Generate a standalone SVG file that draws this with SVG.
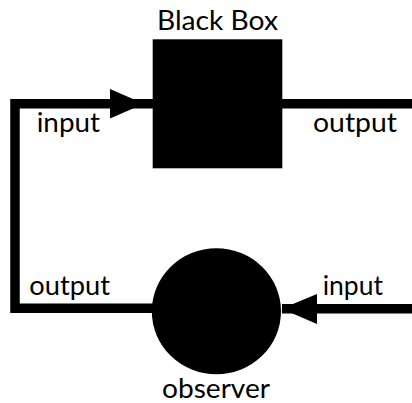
<svg xmlns="http://www.w3.org/2000/svg" width="412" height="403" viewBox="0 0 412 403">
  <style>
    .wire { fill: none; stroke: #000; stroke-width: 9.5; stroke-linejoin: miter; }
    .head { fill: #000; }
    .shape { fill: #000; }
    .label { font-family: Lato, "Open Sans", "Liberation Sans", sans-serif; font-size: 26px; fill: #000; }
  </style>
  <rect width="412" height="403" fill="#fff"/>

  <g id="connectors">
    <!-- observer output loops round to the black box input -->
    <path class="wire" d="M153,308.3 H15 V103.7 H154"/>
    <polygon class="head" points="110,89 110,118.5 144,103.7"/>
    <!-- black box output leaves to the right -->
    <path class="wire" d="M281,103.7 H412"/>
    <!-- observer input enters from the right -->
    <path class="wire" d="M412,308.8 H282"/>
    <polygon class="head" points="317,294 317,324 281.5,308.8"/>
  </g>

  <g id="black-box">
    <rect class="shape" x="152.7" y="39.3" width="129.6" height="129"/>
    <text class="label" x="157" y="30" textLength="121" lengthAdjust="spacingAndGlyphs">Black Box</text>
  </g>

  <g id="observer">
    <ellipse class="shape" cx="216.4" cy="311.3" rx="64.6" ry="63"/>
    <text class="label" x="162" y="397.5" textLength="108" lengthAdjust="spacingAndGlyphs">observer</text>
  </g>

  <g id="port-labels">
    <text class="label" x="36.7" y="131.7" textLength="63.3" lengthAdjust="spacingAndGlyphs">input</text>
    <text class="label" x="313" y="131.7" textLength="84" lengthAdjust="spacingAndGlyphs">output</text>
    <text class="label" x="29.3" y="295" textLength="80.7" lengthAdjust="spacingAndGlyphs">output</text>
    <text class="label" x="322.7" y="295" textLength="60.3" lengthAdjust="spacingAndGlyphs">input</text>
  </g>
</svg>
